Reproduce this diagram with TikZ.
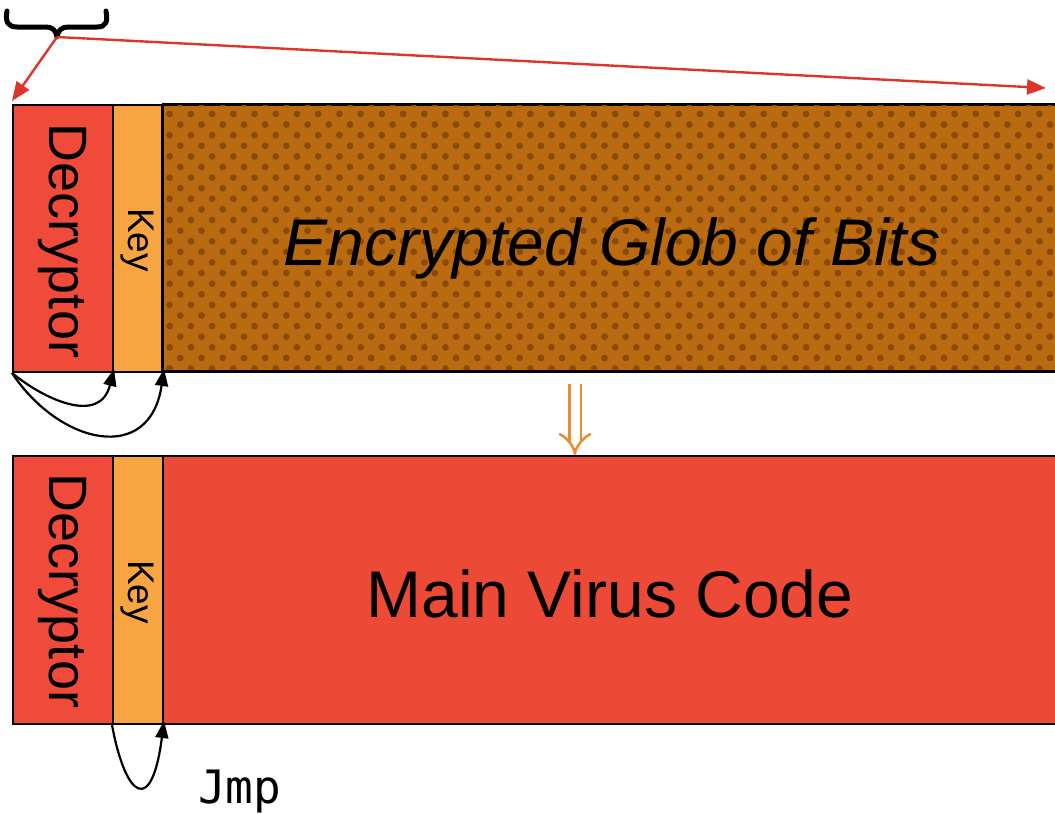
\documentclass[tikz,border=0pt]{standalone}
\usepackage{fontspec}
\newfontfamily\arialf{Liberation Sans}
\newfontfamily\monof{DejaVu Sans Mono}
\usetikzlibrary{arrows.meta,patterns.meta}
\definecolor{decred}{RGB}{240,74,58}
\definecolor{keyorange}{RGB}{247,165,67}
\definecolor{mainred}{RGB}{236,74,54}
\definecolor{globbase}{RGB}{186,106,16}
\definecolor{globdot}{RGB}{140,74,8}
\definecolor{arrowred}{RGB}{222,52,42}
\definecolor{darrow}{RGB}{240,138,48}
\tikzset{
  box/.style={draw=black, line width=2pt, rectangle, inner sep=0pt, anchor=north west},
  decbox/.style={box, fill=decred, minimum width=100pt},
  keybox/.style={box, fill=keyorange, minimum width=50pt},
  rowtop/.style={minimum height=267pt},
  rowbot/.style={minimum height=268pt},
  vlabel/.style={rotate=-90, inner sep=0pt, text=black},
  bigtext/.style={inner sep=0pt, anchor=base, text=black, font=\arialf\fontsize{66}{70}\selectfont},
  curarrow/.style={draw=black, line width=2.2pt, -{Triangle[length=17pt,width=13pt]}},
  redarrow/.style={draw=arrowred, line width=2.4pt, -{Triangle[length=19pt,width=15pt]}}
}
\begin{document}
\begin{tikzpicture}[x=1pt,y=-1pt]
\useasboundingbox[fill=white] (0,0) rectangle (1055,814);
\clip (0,0) rectangle (1055,814);
% top row
\node[decbox, rowtop] (dec1) at (12,104) {};
\node[keybox, rowtop] (key1) at (112,104) {};
\node[box, rowtop, fill=globbase, minimum width=900pt,
      postaction={pattern={Dots[angle=45,distance=15pt,radius=3.4pt]}, pattern color=globdot}] (glob) at (162,104) {};
\draw[black, line width=2pt] (162,104) -- (1060,104) (162,104) -- (162,371) -- (1060,371);
% bottom row
\node[decbox, rowbot] (dec2) at (12,455) {};
\node[keybox, rowbot] (key2) at (112,455) {};
\node[box, rowbot, fill=mainred, minimum width=900pt] (main) at (162,455) {};
% labels
\node[vlabel, font=\arialf\fontsize{54}{56}\selectfont] (dec1t) at (62,241) {Decryptor};
\node[vlabel, font=\arialf\fontsize{37}{40}\selectfont] (key1t) at (137,240) {Key};
\node[vlabel, font=\arialf\fontsize{54}{56}\selectfont] (dec2t) at (62,591) {Decryptor};
\node[vlabel, font=\arialf\fontsize{37}{40}\selectfont] (key2t) at (137,592) {Key};
\node[bigtext, font=\arialf\itshape\fontsize{66}{70}\selectfont] (globt) at (612,265) {Encrypted Glob of Bits};
\node[bigtext] (maint) at (610,617) {Main Virus Code};
\node[inner sep=0pt, anchor=base west, text=black, font=\monof\fontsize{46}{50}\selectfont] (jmp) at (198,803) {Jmp};
% brace
\coordinate (bracetip) at (57,37);
\draw[black, line width=5pt, line cap=round, line join=round]
  (7,11) .. controls (5,22) and (8,27) .. (17,27) -- (46,27)
  .. controls (52,27) and (56,30) .. (bracetip)
  .. controls (58,30) and (62,27) .. (68,27) -- (97,27)
  .. controls (106,27) and (108,22) .. (106,11);
% red arrows
\coordinate (ra) at (12,101);
\coordinate (rb) at (1046,88);
\draw[redarrow] (bracetip) -- (ra);
\draw[redarrow] (bracetip) -- (rb);
% black curved arrows under top row
\draw[curarrow] (dec1.south west) .. controls (45,400) and (100,425) .. ([yshift=4pt]dec1.south east);
\draw[curarrow] (dec1.south west) .. controls (60,445) and (150,465) .. ([yshift=4pt]key1.south east);
% double arrow
\coordinate (dstart) at (575,384);
\draw[draw=darrow, line width=2.5pt, double=white, double distance=9pt, -{Implies}] (dstart) -- (dstart |- main.north);
% jmp arrow
\draw[curarrow] (key2.south west) .. controls (126,800) and (152,815) .. ([yshift=4pt]key2.south east);
\end{tikzpicture}
\end{document}
